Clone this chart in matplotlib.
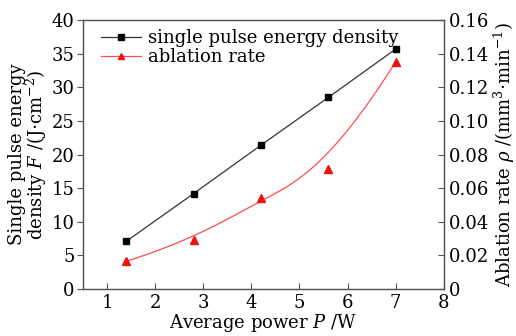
import numpy as np
import matplotlib
matplotlib.use("Agg")
import matplotlib.pyplot as plt
from matplotlib.lines import Line2D

# data
power = [1.4, 2.8, 4.2, 5.6, 7.0]
energy_density = [7.1, 14.2, 21.4, 28.5, 35.7]
ablation_rate = [0.0165, 0.0292, 0.0542, 0.0717, 0.1352]


def bspline(px, py, n=200, k=3):
    # clamped B-spline using the data points as control points (Origin style)
    m = len(px)
    inner = np.linspace(0, 1, m - k + 1)[1:-1]
    t = np.concatenate([np.zeros(k + 1), inner, np.ones(k + 1)])

    def basis(i, d, u):
        if d == 0:
            if t[i] <= u < t[i + 1] or (u == 1.0 and t[i] < t[i + 1] == 1.0):
                return 1.0
            return 0.0
        a = 0.0
        if t[i + d] != t[i]:
            a = (u - t[i]) / (t[i + d] - t[i]) * basis(i, d - 1, u)
        b = 0.0
        if t[i + d + 1] != t[i + 1]:
            b = (t[i + d + 1] - u) / (t[i + d + 1] - t[i + 1]) * basis(i + 1, d - 1, u)
        return a + b

    us = np.linspace(0, 1, n)
    B = np.array([[basis(i, k, u) for i in range(m)] for u in us])
    return B @ np.array(px), B @ np.array(py)


plt.rcParams['font.family'] = ['DejaVu Serif']
plt.rcParams['mathtext.fontset'] = 'dejavuserif'

fig = plt.figure(figsize=(5.16, 3.36), dpi=100)
ax = fig.add_axes([0.161, 0.140, 0.699, 0.800])
ax2 = ax.twinx()

ax.plot(power, energy_density, color='#333333', lw=0.9, marker='s', ms=4.5,
        mfc='black', mec='black')

xs, ys = bspline(power, ablation_rate)
ax2.plot(xs, ys, color='#ff4d4d', lw=0.9)
ax2.plot(power, ablation_rate, ls='none', marker='^', ms=5.5, color='#ee1111')

ax.set_xlim(0.5, 8)
ax.set_ylim(0, 40)
ax2.set_ylim(0, 0.16)
ax.set_xticks(range(1, 9))
ax.set_yticks(range(0, 41, 5))
ax2.set_yticks(np.arange(0, 0.161, 0.02))
ax2.set_yticklabels(['0'] + ['%.2f' % v for v in np.arange(0.02, 0.161, 0.02)])

ax.tick_params(axis='x', direction='in', length=4, labelsize=13, color='#555555')
ax.tick_params(axis='y', direction='out', length=4, labelsize=13, color='#555555', pad=2)
ax2.tick_params(axis='y', direction='in', length=4, labelsize=13, color='#555555')
for a_ in (ax, ax2):
    for s in a_.spines.values():
        s.set_color('#555555')
        s.set_linewidth(0.9)

ax.set_xlabel('Average power $P$ /W', fontsize=13, labelpad=0)
ax.set_ylabel('Single pulse energy\ndensity $F$ /(J$\\cdot$cm$^{-2}$)', fontsize=13,
              linespacing=0.9, labelpad=2)
ax2.set_ylabel('Ablation rate $\\rho$ /(mm$^3$$\\cdot$min$^{-1}$)', fontsize=13,
               labelpad=2)

handles = [Line2D([], [], color='#333333', lw=0.9, marker='s', ms=4, mfc='black', mec='black'),
           Line2D([], [], color='#ff4d4d', lw=0.9, marker='^', ms=5, mfc='#ee1111', mec='#ee1111')]
ax.legend(handles, ['single pulse energy density', 'ablation rate'], loc='upper left',
          frameon=False, fontsize=13, handlelength=2.2, handletextpad=0.4,
          borderaxespad=0.1, labelspacing=0.05, bbox_to_anchor=(0.025, 1.0))

fig.savefig('out.png', dpi=100)
